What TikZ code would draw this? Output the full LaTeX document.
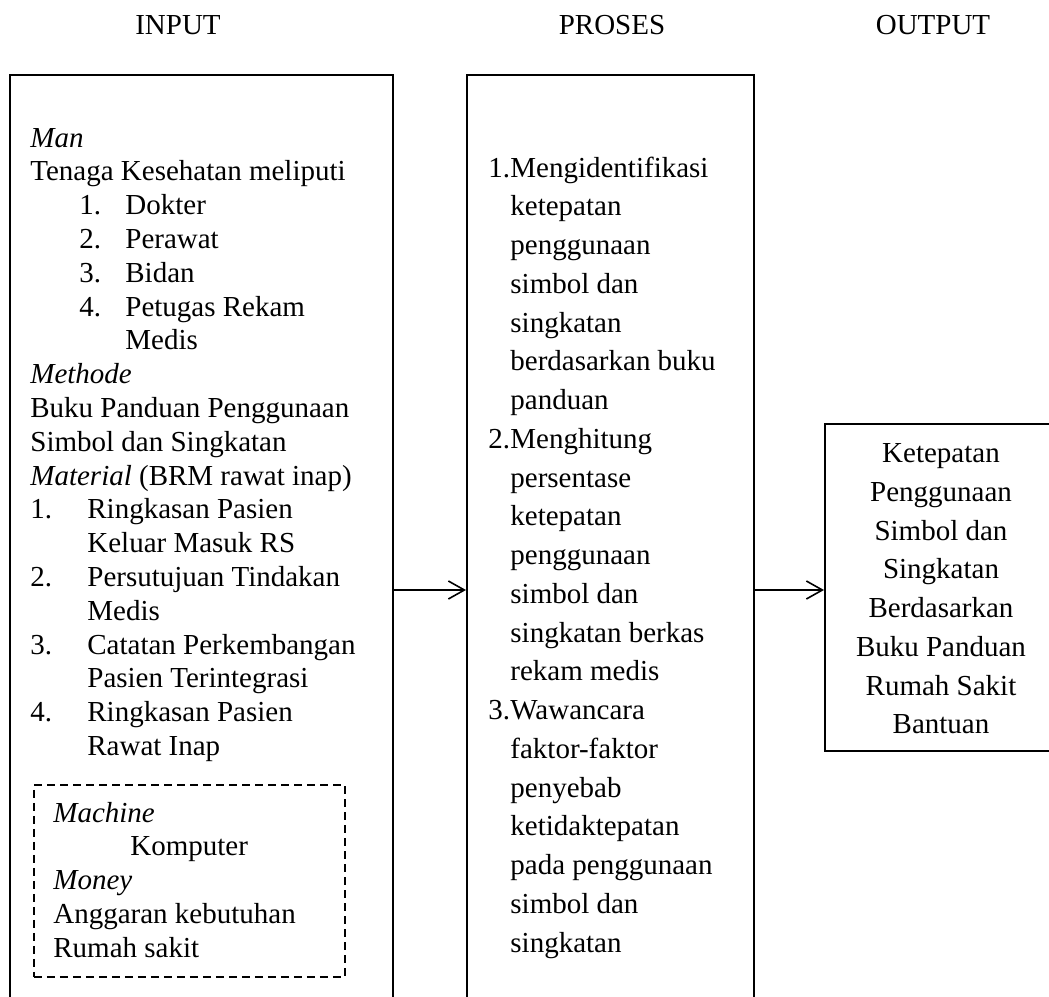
\documentclass[tikz,border=0pt]{standalone}
\usepackage{fontspec}
\setmainfont{Liberation Serif}
\usetikzlibrary{arrows.meta}
\tikzset{
  box/.style={draw, line width=0.8pt, inner sep=0pt, anchor=north west},
  dashbox/.style={box, dash pattern=on 4pt off 2.5pt},
  line/.style={anchor=base west, inner sep=0pt},
  flow/.style={-{Straight Barb[length=8pt,width=9pt]}, line width=0.8pt},
}
\begin{document}
\begin{tikzpicture}[x=0.5pt, y=-0.5pt, font=\fontsize{14.5}{16.9}\selectfont]
\useasboundingbox (0,0) rectangle (1049,996);
\clip (0,0) rectangle (1049,996);
\def\inx{30}
\def\iny{147}
\def\prx{488}
\def\pry{177}
\def\mnx{53}
\def\mny{822}

% headings
\node[anchor=base] (hin) at (178,34) {INPUT};
\node[anchor=base] (hpr) at (612,34) {PROSES};
\node[anchor=base] (hout) at (933,34) {OUTPUT};

% boxes
\node[box, minimum width=191.5pt, minimum height=470pt] (inbox) at (9,74) {};
\node[box, minimum width=143.5pt, minimum height=470pt] (procbox) at (466,74) {};
\node[box, minimum width=117pt, minimum height=163.5pt] (outbox) at (824,423) {};
\node[dashbox, minimum width=155.5pt, minimum height=96pt] (mnbox) at (33,784) {};

% input
\foreach \txt [count=\i from 0] in {
  {\textit{Man}},
  {Tenaga Kesehatan meliputi},
  {\hspace*{24.5pt}\makebox[23pt][l]{1.}Dokter},
  {\hspace*{24.5pt}\makebox[23pt][l]{2.}Perawat},
  {\hspace*{24.5pt}\makebox[23pt][l]{3.}Bidan},
  {\hspace*{24.5pt}\makebox[23pt][l]{4.}Petugas Rekam},
  {\hspace*{47.5pt}Medis},
  {\textit{Methode}},
  {Buku Panduan Penggunaan},
  {Simbol dan Singkatan},
  {\textit{Material} (BRM rawat inap)},
  {\makebox[28.5pt][l]{1.}Ringkasan Pasien},
  {\hspace*{28.5pt}Keluar Masuk RS},
  {\makebox[28.5pt][l]{2.}Persutujuan Tindakan},
  {\hspace*{28.5pt}Medis},
  {\makebox[28.5pt][l]{3.}Catatan Perkembangan},
  {\hspace*{28.5pt}Pasien Terintegrasi},
  {\makebox[28.5pt][l]{4.}Ringkasan Pasien},
  {\hspace*{28.5pt}Rawat Inap}}
  \node[line] (in-\i) at (\inx, \iny+33.8*\i) {\txt};

\node[line] (mn-0) at (\mnx, \mny) {\textit{Machine}};
\node[line] (mn-1) at (130, \mny+33.8) {Komputer};
\node[line] (mn-2) at (\mnx, \mny+67.6) {\textit{Money}};
\node[line] (mn-3) at (\mnx, \mny+101.4) {Anggaran kebutuhan};
\node[line] (mn-4) at (\mnx, \mny+135.2) {Rumah sakit};

% proses
\foreach \txt [count=\i from 0] in {
  {\makebox[11pt][l]{1.}Mengidentifikasi},
  {\hspace*{11pt}ketepatan},
  {\hspace*{11pt}penggunaan},
  {\hspace*{11pt}simbol dan},
  {\hspace*{11pt}singkatan},
  {\hspace*{11pt}berdasarkan buku},
  {\hspace*{11pt}panduan},
  {\makebox[11pt][l]{2.}Menghitung},
  {\hspace*{11pt}persentase},
  {\hspace*{11pt}ketepatan},
  {\hspace*{11pt}penggunaan},
  {\hspace*{11pt}simbol dan},
  {\hspace*{11pt}singkatan berkas},
  {\hspace*{11pt}rekam medis},
  {\makebox[11pt][l]{3.}Wawancara},
  {\hspace*{11pt}faktor-faktor},
  {\hspace*{11pt}penyebab},
  {\hspace*{11pt}ketidaktepatan},
  {\hspace*{11pt}pada penggunaan},
  {\hspace*{11pt}simbol dan},
  {\hspace*{11pt}singkatan}}
  \node[line] (pr-\i) at (\prx, \pry+38.75*\i) {\txt};

% output
\node[align=center, font=\fontsize{14.5}{19.375}\selectfont] (outtxt) at (941,589)
  {Ketepatan\\ Penggunaan\\ Simbol dan\\ Singkatan\\ Berdasarkan\\ Buku Panduan\\ Rumah Sakit\\ Bantuan};

\coordinate (mid) at (0,590);
\draw[flow] (inbox.east |- mid) -- (procbox.west |- mid);
\draw[flow] (procbox.east |- mid) -- (outbox.west |- mid);
\end{tikzpicture}
\end{document}
